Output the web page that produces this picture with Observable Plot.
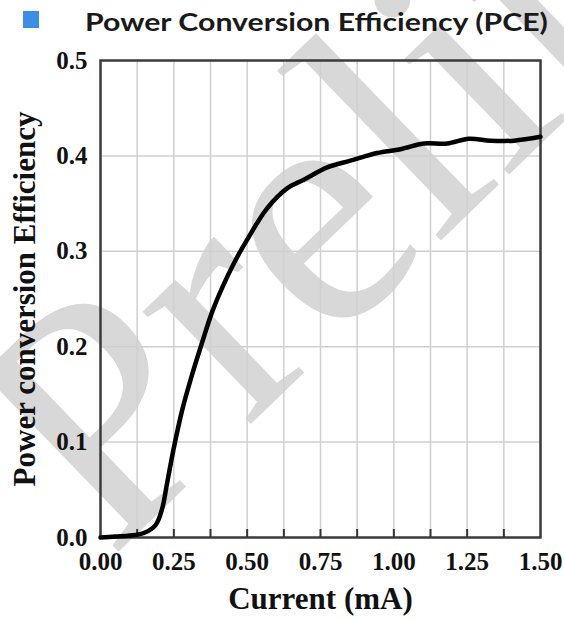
<!DOCTYPE html>
<html>
<head>
<meta charset="utf-8">
<script src="https://cdn.jsdelivr.net/npm/d3@7"></script>
<script src="https://cdn.jsdelivr.net/npm/@observablehq/plot@0.6"></script>
<style>
  html, body { margin: 0; padding: 0; background: #fff; }
  #wrap { position: relative; width: 564px; height: 619px; overflow: hidden; }
  #wm { position: absolute; left: 0; top: 0; z-index: 0; }
  #title { position: relative; z-index: 1; height: 40px; }
  #title .sq { position: absolute; left: 23px; top: 11px; width: 16px; height: 17px; background: #3a8ee8; }
  #title .tx { position: absolute; left: 85px; top: 6px; font-family: Lato, "Open Sans", sans-serif; font-weight: 700; font-size: 25px; line-height: 30px; color: #1a1a1a; white-space: nowrap; transform: scaleX(1.21); transform-origin: 0 50%; }
  #chart { position: relative; z-index: 1; }
  #chart svg { background: transparent; }
</style>
</head>
<body>
<div id="wrap">
  <svg id="wm" width="564" height="619">
    <text x="0" y="0" transform="translate(110,560) rotate(-44)" font-family="Liberation Serif, serif" font-size="340" fill="#d8d8d8">Prelim</text>
  </svg>
  <div id="title"><div class="sq"></div><div class="tx">Power Conversion Efficiency (PCE)</div></div>
  <div id="chart"></div>
</div>
<script>
// Current (mA)
const current = [0.00, 0.05, 0.10, 0.15, 0.1875, 0.21, 0.227, 0.248, 0.278, 0.3125, 0.347, 0.38, 0.415, 0.454, 0.494, 0.568, 0.636, 0.693, 0.773, 0.852, 0.943, 1.023, 1.102, 1.182, 1.256, 1.33, 1.41, 1.50];
// Power conversion efficiency
const pce = [0.000, 0.001, 0.002, 0.005, 0.013, 0.030, 0.057, 0.091, 0.133, 0.171, 0.205, 0.236, 0.262, 0.287, 0.309, 0.345, 0.366, 0.375, 0.388, 0.395, 0.403, 0.407, 0.413, 0.413, 0.418, 0.416, 0.416, 0.420];
const xTicks = [0, 0.25, 0.5, 0.75, 1.0, 1.25, 1.5];
const xGrid = [0.125, 0.25, 0.375, 0.5, 0.625, 0.75, 0.875, 1.0, 1.125, 1.25, 1.375];
const yTicks = [0, 0.1, 0.2, 0.3, 0.4, 0.5];
const yGrid = [0.1, 0.2, 0.3, 0.4];
const xLabel = "Current (mA)";
const yLabel = "Power conversion Efficiency";

const data = current.map((c, i) => ({current: c, pce: pce[i]}));
const serif = "'Liberation Serif', 'Times New Roman', serif";

const chart = Plot.plot({
  width: 564,
  height: 579,
  marginLeft: 100,
  marginRight: 24,
  marginTop: 20,
  marginBottom: 82,
  style: {background: "transparent", fontFamily: serif},
  x: {domain: [0, 1.5]},
  y: {domain: [0, 0.5]},
  marks: [
    Plot.gridX(xGrid, {stroke: "#d0d0d0", strokeOpacity: 1, strokeWidth: 1.5}),
    Plot.gridY(yGrid, {stroke: "#d0d0d0", strokeOpacity: 1, strokeWidth: 1.5}),
    Plot.tickX(xGrid, {x: d => d, stroke: "#333", strokeWidth: 2, insetTop: 469}),
    Plot.axisX(xTicks, {tickSize: 0, tickPadding: 15, tickFormat: d3.format(".2f"), fontSize: 25, fontWeight: "bold", fill: "#111", label: null}),
    Plot.axisY(yTicks, {tickSize: 0, tickPadding: 13, tickFormat: d3.format(".1f"), fontSize: 25, fontWeight: "bold", fill: "#111", label: null}),
    Plot.text([xLabel], {frameAnchor: "bottom", dy: 71, fontSize: 31, fontWeight: "bold", fill: "#111"}),
    Plot.text([yLabel], {frameAnchor: "left", dx: -75, rotate: -90, textAnchor: "middle", fontSize: 31, fontWeight: "bold", fill: "#111"}),
    Plot.frame({stroke: "#3a3a3a", strokeWidth: 2.5}),
    Plot.line(data, {x: "current", y: "pce", curve: "catmull-rom", stroke: "#000", strokeWidth: 4.5})
  ]
});
document.getElementById("chart").appendChild(chart);
</script>
</body>
</html>
